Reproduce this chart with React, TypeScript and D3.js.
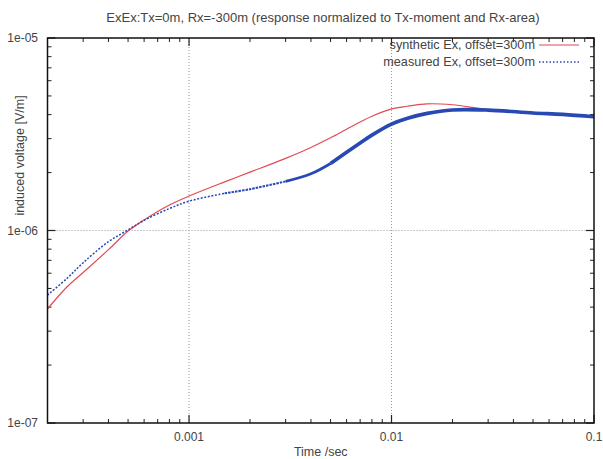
import React from "react";
import * as d3 from "d3";

const timeSec = [2e-4, 2.5e-4, 3e-4, 4e-4, 5e-4, 6e-4, 8e-4, 1e-3, 1.5e-3, 2e-3, 3e-3, 4e-3, 5e-3, 6e-3, 7e-3, 8e-3, 1e-2, 1.2e-2, 1.5e-2, 2e-2, 3e-2, 5e-2, 7e-2, 1e-1];
const synthetic = [3.91e-7, 5.1e-7, 6.05e-7, 7.95e-7, 9.93e-7, 1.135e-6, 1.356e-6, 1.51e-6, 1.79e-6, 2.01e-6, 2.37e-6, 2.7e-6, 3.03e-6, 3.36e-6, 3.66e-6, 3.92e-6, 4.28e-6, 4.42e-6, 4.55e-6, 4.5e-6, 4.25e-6, 4.1e-6, 4.01e-6, 3.89e-6];
const measured = [4.62e-7, 5.65e-7, 6.8e-7, 8.75e-7, 1.007e-6, 1.13e-6, 1.3e-6, 1.42e-6, 1.56e-6, 1.64e-6, 1.8e-6, 1.97e-6, 2.23e-6, 2.55e-6, 2.85e-6, 3.13e-6, 3.57e-6, 3.83e-6, 4.06e-6, 4.23e-6, 4.22e-6, 4.08e-6, 4.01e-6, 3.9e-6];
const xMajorTicks = [0.001, 0.01, 0.1];
const xMajorLabels = ["0.001", "0.01", "0.1"];
const yMajorTicks = [1e-7, 1e-6, 1e-5];
const yMajorLabels = ["1e-07", "1e-06", "1e-05"];
const seriesNames = ["synthetic Ex, offset=300m", "measured Ex, offset=300m"];
const titleText = "ExEx:Tx=0m, Rx=-300m (response normalized to Tx-moment and Rx-area)";
const xLabel = "Time /sec";
const yLabel = "induced voltage [V/m]";

const W = 603, H = 459;
const L = 47.5, R = 594, T = 38, B = 423;
const FONT = "'Liberation Sans', Arial, sans-serif";
const TXT = "#444";

export default function App() {
  const x = d3.scaleLog().domain([2e-4, 0.1]).range([L, R]);
  const y = d3.scaleLog().domain([1e-7, 1e-5]).range([B, T]);

  const minorX: number[] = [];
  for (const dec of [1e-4, 1e-3, 1e-2]) for (let k = 2; k <= 9; k++) {
    const v = k * dec;
    if (v >= 2e-4 && v <= 0.1) minorX.push(v);
  }
  const minorY: number[] = [];
  for (const dec of [1e-7, 1e-6]) for (let k = 2; k <= 9; k++) minorY.push(k * dec);

  const idx = timeSec.map((_, i) => i);
  const curve = d3.curveCatmullRom.alpha(0.5);
  const sLine = d3.line<number>().x(i => x(timeSec[i])).y(i => y(synthetic[i])).curve(curve);
  const synPath = sLine(idx) || "";
  const mLine = d3.line<number>().x(i => x(timeSec[i])).y(i => y(measured[i])).curve(curve);
  const seg1 = mLine(idx.filter(i => timeSec[i] <= 1.5e-3)) || "";
  const seg2 = mLine(idx.filter(i => timeSec[i] >= 1.5e-3 && timeSec[i] <= 3e-3)) || "";
  const seg3 = mLine(idx.filter(i => timeSec[i] >= 3e-3 && timeSec[i] <= 5e-3)) || "";
  const seg4 = mLine(idx.filter(i => timeSec[i] >= 5e-3)) || "";

  const red = "#e24a55";
  const blue = "#2848b4";

  return (
    <svg width={W} height={H} style={{ position: "absolute", left: 0, top: 0, background: "#fff" }} fontFamily={FONT}>
      <rect x={0} y={0} width={W} height={H} fill="#fff" />
      {xMajorTicks.filter(v => v < 0.1).map(v => (
        <line key={"gx" + v} x1={x(v)} x2={x(v)} y1={T} y2={B} stroke="#999" strokeWidth={1} strokeDasharray="1,2" />
      ))}
      {yMajorTicks.filter(v => v > 1e-7 && v < 1e-5).map(v => (
        <line key={"gy" + v} x1={L} x2={R} y1={y(v)} y2={y(v)} stroke="#999" strokeWidth={1} strokeDasharray="1,2" />
      ))}
      {minorX.map(v => (
        <g key={"mx" + v}>
          <line x1={x(v)} x2={x(v)} y1={B} y2={B - 4} stroke="#222" strokeWidth={1} />
          <line x1={x(v)} x2={x(v)} y1={T} y2={T + 4} stroke="#222" strokeWidth={1} />
        </g>
      ))}
      {xMajorTicks.map(v => (
        <g key={"Mx" + v}>
          <line x1={x(v)} x2={x(v)} y1={B} y2={B - 8} stroke="#222" strokeWidth={1.2} />
          <line x1={x(v)} x2={x(v)} y1={T} y2={T + 8} stroke="#222" strokeWidth={1.2} />
        </g>
      ))}
      {minorY.map(v => (
        <g key={"my" + v}>
          <line x1={L} x2={L + 4} y1={y(v)} y2={y(v)} stroke="#222" strokeWidth={1} />
          <line x1={R} x2={R - 4} y1={y(v)} y2={y(v)} stroke="#222" strokeWidth={1} />
        </g>
      ))}
      {yMajorTicks.map(v => (
        <g key={"My" + v}>
          <line x1={L} x2={L + 8} y1={y(v)} y2={y(v)} stroke="#222" strokeWidth={1.2} />
          <line x1={R} x2={R - 8} y1={y(v)} y2={y(v)} stroke="#222" strokeWidth={1.2} />
        </g>
      ))}
      <path d={synPath} fill="none" stroke={red} strokeWidth={1.2} />
      <path d={seg1} fill="none" stroke={blue} strokeWidth={1.5} strokeDasharray="2,1.6" />
      <path d={seg2} fill="none" stroke={blue} strokeWidth={2} strokeDasharray="2.5,1" />
      <path d={seg3} fill="none" stroke={blue} strokeWidth={2.8} />
      <path d={seg4} fill="none" stroke={blue} strokeWidth={3.6} />
      <rect x={L} y={T} width={R - L} height={B - T} fill="none" stroke="#111" strokeWidth={1.5} />
      {yMajorTicks.map((v, i) => (
        <text key={"ly" + v} x={38} y={y(v)} dy="0.35em" textAnchor="end" fontSize={12} fill={TXT}>{yMajorLabels[i]}</text>
      ))}
      {xMajorTicks.map((v, i) => (
        <text key={"lx" + v} x={x(v)} y={441} textAnchor="middle" fontSize={12} fill={TXT}>{xMajorLabels[i]}</text>
      ))}
      <text x={323} y={22} textAnchor="middle" fontSize={13} fill={TXT}>{titleText}</text>
      <text x={(L + R) / 2} y={456} textAnchor="middle" fontSize={12.5} fill={TXT}>{xLabel}</text>
      <text transform={`translate(24,${(T + B) / 2 - 75}) rotate(-90)`} textAnchor="middle" fontSize={12.5} fill={TXT}>{yLabel}</text>
      <text x={535} y={49} textAnchor="end" fontSize={12.7} fill={TXT}>{seriesNames[0]}</text>
      <line x1={539} x2={579} y1={45} y2={45} stroke={red} strokeWidth={1.2} />
      <text x={535} y={66} textAnchor="end" fontSize={12.7} fill={TXT}>{seriesNames[1]}</text>
      <line x1={539} x2={579} y1={62} y2={62} stroke={blue} strokeWidth={1.6} strokeDasharray="1.5,2" />
    </svg>
  );
}
